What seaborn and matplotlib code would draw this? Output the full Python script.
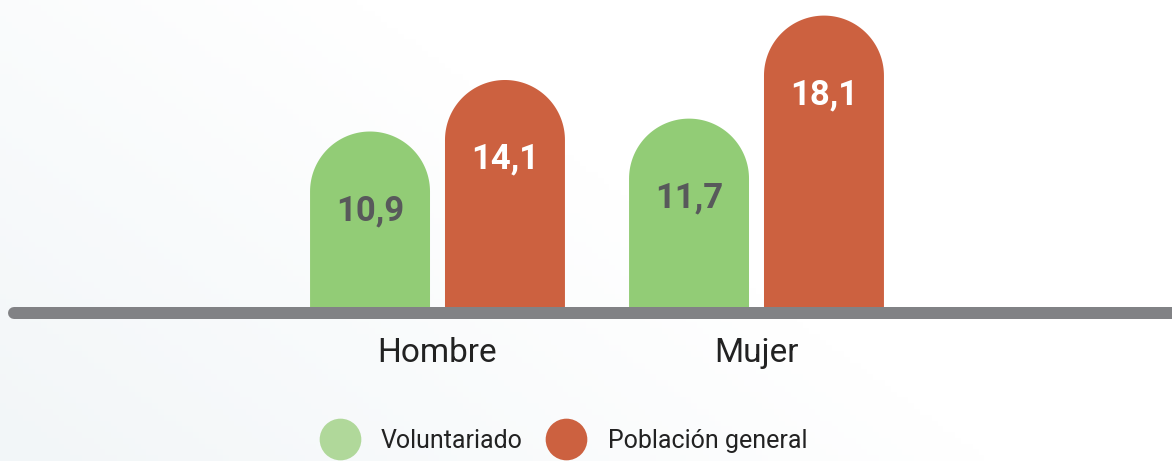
"""
Bar chart Voluntariado vs Población general por sexo
Rounded-top bars drawn with seaborn
"""

import numpy as np
import pandas as pd
import matplotlib
matplotlib.use("Agg")
import matplotlib.pyplot as plt
from matplotlib.patches import Polygon
from matplotlib.lines import Line2D
from matplotlib.colors import LinearSegmentedColormap
import seaborn as sns

# Data
sexos = ["Hombre", "Mujer"]
grupos = ["Voluntariado", "Población general"]
voluntariado = [10.9, 11.7]
poblacion = [14.1, 18.1]
etiquetas = [["10,9", "11,7"], ["14,1", "18,1"]]

# Colours
VERDE = "#92CC76"
NARANJA = "#CC6140"
VERDE_LEYENDA = "#B0D89A"
GRIS_LINEA = "#818285"
TEXTO = "#222222"

W, H, DPI = 1172, 461, 100
PX_Y = 16.1       # pixels per unit on y
PX_X = 319.0      # pixels per category on x
ANCHO = 0.846     # group width in category units
GAP = 0.111

sns.set_theme(style="white")
plt.rcParams["font.family"] = ["Roboto", "DejaVu Sans"]

df = pd.DataFrame({
    "sexo": sexos * 2,
    "grupo": [grupos[0]] * 2 + [grupos[1]] * 2,
    "valor": voluntariado + poblacion,
})

fig = plt.figure(figsize=(W / DPI, H / DPI), dpi=DPI)

# Background gradient (light grey-blue bottom-left to white)
bg = fig.add_axes([0, 0, 1, 1], zorder=-10)
xx, yy = np.meshgrid(np.linspace(0, 1, 200), np.linspace(0, 1, 80))
grad = np.clip((xx * 1.3 + (1 - yy) * 0.7) / 1.1, 0, 1)
cmap = LinearSegmentedColormap.from_list("bg", ["#F2F6F8", "#FFFFFF"])
bg.imshow(grad, cmap=cmap, aspect="auto", extent=[0, 1, 0, 1], vmin=0, vmax=1)
bg.axis("off")

# Main axes: baseline bottom at pixel 319, top at 0
ax = fig.add_axes([0, (H - 319) / H, 1, 319 / H])
ax.set_facecolor("none")

sns.barplot(data=df, x="sexo", y="valor", hue="grupo", order=sexos, hue_order=grupos,
            palette={grupos[0]: VERDE, grupos[1]: NARANJA},
            width=ANCHO, gap=GAP, legend=False, ax=ax, saturation=1)

x0 = -437.5 / PX_X
ax.set_xlim(x0, x0 + W / PX_X)
ax.set_ylim(-12 / PX_Y, 307 / PX_Y)

# Replace each bar with a rounded-top shape built from its own extent
theta = np.linspace(0, np.pi, 80)
centros = []
for patch in list(ax.patches):
    x, w, h = patch.get_x(), patch.get_width(), patch.get_height()
    ry = (w * PX_X / 2) / PX_Y
    cx = x + w / 2
    arc = np.column_stack([cx + w / 2 * np.cos(theta), (h - ry) + ry * np.sin(theta)])
    pts = np.vstack([[x, 0], [x + w, 0], arc, [x, 0]])
    ax.add_patch(Polygon(pts, closed=True, facecolor=patch.get_facecolor(),
                         edgecolor="none", zorder=patch.get_zorder()))
    centros.append(cx)
    patch.remove()

# Value labels inside the bars
for j, (serie, color) in enumerate([(voluntariado, "#58595B"), (poblacion, "white")]):
    for i, v in enumerate(serie):
        cx = centros[j * len(sexos) + i]
        ax.text(cx, v - 79 / PX_Y, etiquetas[j][i], ha="center", va="center",
                fontsize=25, fontweight="bold", color=color)

# Baseline
ax.axhline(-6 / PX_Y, xmin=14 / W, xmax=1.02, color=GRIS_LINEA, lw=12 * 72 / DPI,
           solid_capstyle="round", clip_on=False, zorder=5)

ax.set_xlabel("")
ax.set_ylabel("")
ax.set_yticks([])
ax.tick_params(axis="x", length=0, pad=13, labelsize=24, labelcolor=TEXTO)
sns.despine(ax=ax, left=True, bottom=True)

# Legend
handles = [Line2D([], [], marker="o", ls="", markersize=30, markerfacecolor=c, markeredgecolor="none")
           for c in [VERDE_LEYENDA, NARANJA]]
fig.legend(handles, grupos, loc="center", bbox_to_anchor=(564 / W, 1 - 441 / H), ncol=2,
           frameon=False, fontsize=18, labelcolor=TEXTO, handlelength=1.5,
           handletextpad=0.9, columnspacing=1.0)

fig.savefig("out.png", dpi=DPI)
